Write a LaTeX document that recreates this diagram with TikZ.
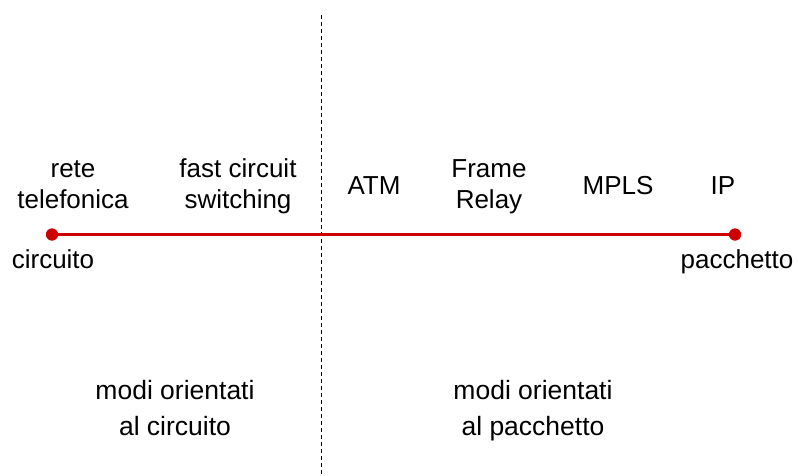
\documentclass[tikz,border=0pt]{standalone}
\usepackage{fontspec}
\setmainfont{Liberation Sans}
\definecolor{lred}{RGB}{204,0,0}
\begin{document}
\begin{tikzpicture}[x=1pt,y=-1pt,
  lbl/.style={inner sep=0pt,anchor=base,align=center,font=\fontsize{26}{31}\selectfont},
  mode/.style={inner sep=0pt,anchor=base,align=center,font=\fontsize{26.5}{36}\selectfont},
  enddot/.style={circle,fill=lred,inner sep=0pt,minimum size=12pt},
  axis/.style={draw=lred,line width=3.5pt},
  divider/.style={draw=black,line width=0.9pt,dash pattern=on 4pt off 3pt}]
\useasboundingbox (0,0) rectangle (798,475);
% divider
\coordinate (dtop) at (321.5,15);
\coordinate (dbot) at (321.5,475);
\draw[divider] (dtop) -- (dbot);
% axis
\node[enddot] (L) at (52,234.5) {};
\node[enddot] (R) at (735,234.5) {};
\draw[axis] (L.center) -- (R.center);
\node[enddot] at (L) {};
\node[enddot] at (R) {};
% labels
\node[lbl] (rete) at (73,208) {rete\\telefonica};
\node[lbl] (fcs) at (238,208) {fast circuit\\switching};
\node[lbl] (atm) at (374,194) {ATM};
\node[lbl] (fr) at (489,208) {Frame\\Relay};
\node[lbl] (mpls) at (618,194) {MPLS};
\node[lbl] (ip) at (723,194) {IP};
\node[lbl] (circ) at (53,268) {circuito};
\node[lbl] (pacc) at (737,268) {pacchetto};
\node[mode] (mc) at (175,435) {modi orientati\\al circuito};
\node[mode] (mp) at (533,435) {modi orientati\\al pacchetto};
\end{tikzpicture}
\end{document}
